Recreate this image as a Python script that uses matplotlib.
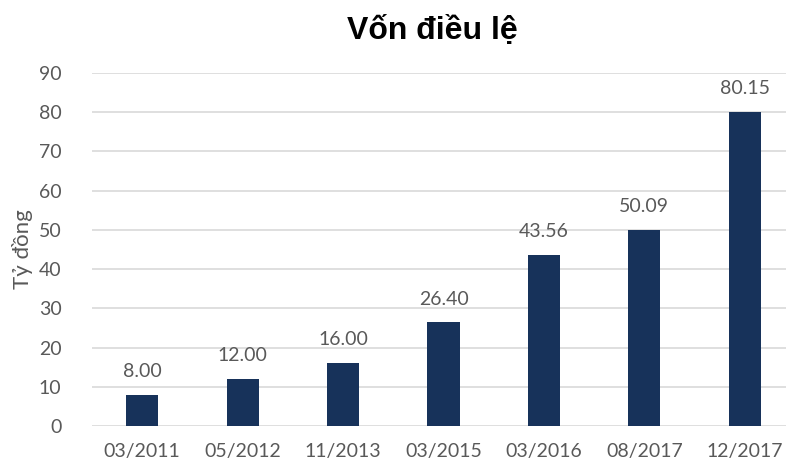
import matplotlib
matplotlib.use("Agg")
import matplotlib.pyplot as plt

# Chart data
periods = ["03/2011", "05/2012", "11/2013", "03/2015", "03/2016", "08/2017", "12/2017"]
capital = [8.00, 12.00, 16.00, 26.40, 43.56, 50.09, 80.15]

BAR_COLOR = "#17325A"
TEXT_COLOR = "#595959"

plt.rcParams['font.family'] = ['Lato', 'DejaVu Sans']

fig = plt.figure(figsize=(7.86, 4.70), dpi=100)
ax = fig.add_axes([92 / 786, 44 / 470, 694 / 786, 353 / 470])

x = range(len(periods))
bars = ax.bar(x, capital, width=0.32, color=BAR_COLOR, zorder=3)

for b, v in zip(bars, capital):
    ax.text(b.get_x() + b.get_width() / 2, v + 3.8, f"{v:.2f}",
            ha="center", va="bottom", fontsize=14, color=TEXT_COLOR)

ax.set_xlim(-0.5, 6.41)
ax.set_ylim(0, 90)
ax.set_yticks(range(0, 91, 10))
ax.set_xticks(list(x))
ax.set_xticklabels(periods)
ax.tick_params(axis="both", length=0, labelsize=14, colors=TEXT_COLOR)
ax.tick_params(axis="x", pad=12)
ax.tick_params(axis="y", pad=22)
ax.grid(axis="y", color="#D9D9D9", linewidth=1.2, zorder=0)
for s in ax.spines.values():
    s.set_visible(False)

ax.set_ylabel("Tỷ đồng", fontsize=16, color=TEXT_COLOR, labelpad=4)

fig.text(0.55, 0.935, "Vốn điều lệ", ha="center", va="center",
         fontsize=23, fontweight="bold", family="Liberation Sans", color="black")

fig.savefig("out.png", dpi=100)
